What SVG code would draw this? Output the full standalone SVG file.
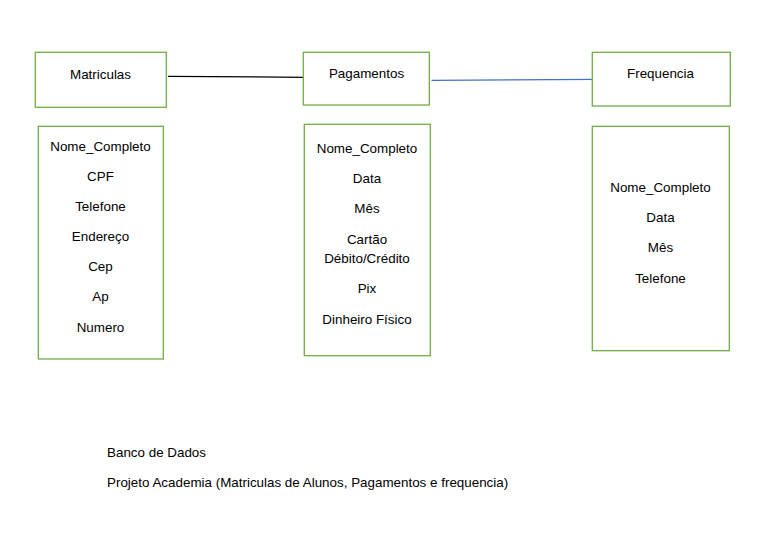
<svg xmlns="http://www.w3.org/2000/svg" width="771" height="548" viewBox="0 0 771 548">
<style>
.box{fill:#fff;stroke:#70AD47;stroke-width:1.3}
text{font-family:"Liberation Sans",Arial,sans-serif;font-size:13.4px;fill:#000}
.c{text-anchor:middle}
</style>
<rect width="771" height="548" fill="#fff"/>
<g id="connectors">
<line x1="168" y1="76.3" x2="305.5" y2="77.3" stroke="#000" stroke-width="1.2"/>
<line x1="431.5" y1="80.3" x2="598" y2="79.3" stroke="#4472C4" stroke-width="1.2"/>
</g>
<g id="matriculas">
<rect class="box" x="35.3" y="52.3" width="131" height="55"/>
<text class="c" x="100.5" y="79">Matriculas</text>
</g>
<g id="pagamentos">
<rect class="box" x="303.3" y="52.3" width="126" height="52.7"/>
<text class="c" x="366.5" y="78">Pagamentos</text>
</g>
<g id="frequencia">
<rect class="box" x="592.3" y="52.3" width="138" height="53.7"/>
<text class="c" x="660.5" y="78">Frequencia</text>
</g>
<g id="matriculas-attrs">
<rect class="box" x="38.3" y="126.3" width="125" height="232.7"/>
<text class="c" x="100.5" y="151">Nome_Completo</text>
<text class="c" x="100.5" y="181">CPF</text>
<text class="c" x="100.5" y="211">Telefone</text>
<text class="c" x="100.5" y="241">Endereço</text>
<text class="c" x="100.5" y="271">Cep</text>
<text class="c" x="100.5" y="301">Ap</text>
<text class="c" x="100.5" y="332">Numero</text>
</g>
<g id="pagamentos-attrs">
<rect class="box" x="304.3" y="124.3" width="126" height="231.4"/>
<text class="c" x="367" y="153">Nome_Completo</text>
<text class="c" x="367" y="183">Data</text>
<text class="c" x="367" y="213">Mês</text>
<text class="c" x="367" y="244">Cartão</text>
<text class="c" x="367" y="263">Débito/Crédito</text>
<text class="c" x="367" y="293">Pix</text>
<text class="c" x="367" y="324">Dinheiro Físico</text>
</g>
<g id="frequencia-attrs">
<rect class="box" x="592.3" y="126.3" width="137" height="224.4"/>
<text class="c" x="660.5" y="192">Nome_Completo</text>
<text class="c" x="660.5" y="222">Data</text>
<text class="c" x="660.5" y="252">Mês</text>
<text class="c" x="660.5" y="283">Telefone</text>
</g>
<g id="notes">
<text x="107" y="456.5">Banco de Dados</text>
<text x="107" y="486.5">Projeto Academia (Matriculas de Alunos, Pagamentos e frequencia)</text>
</g>
</svg>
